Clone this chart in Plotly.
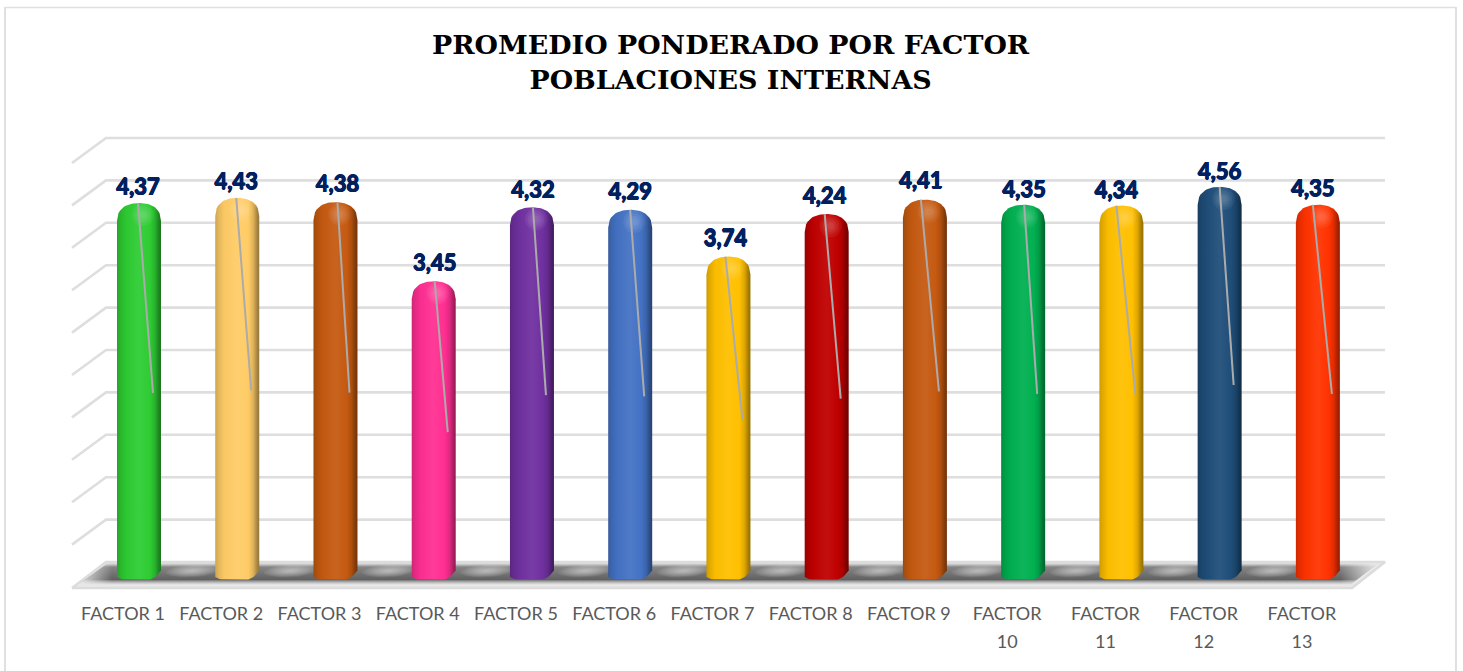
import math
import plotly.graph_objects as go

categories = ["FACTOR 1","FACTOR 2","FACTOR 3","FACTOR 4","FACTOR 5","FACTOR 6","FACTOR 7","FACTOR 8","FACTOR 9","FACTOR","FACTOR","FACTOR","FACTOR"]
second_line = ["10","11","12","13"]
values = [4.37,4.43,4.38,3.45,4.32,4.29,3.74,4.24,4.41,4.35,4.34,4.56,4.35]
value_labels = ["4,37","4,43","4,38","3,45","4,32","4,29","3,74","4,24","4,41","4,35","4,34","4,56","4,35"]
colors = ["#2ECC33","#FFCC66","#C55A11","#FF2F92","#7030A0","#4472C4","#FFC000","#C00000","#C55A11","#00B050","#FFC000","#1F4E79","#FF3300"]
title_text = "<b>PROMEDIO PONDERADO POR FACTOR<br>POBLACIONES INTERNAS</b>"
grid_values = [0,0.5,1,1.5,2,2.5,3,3.5,4,4.5,5]

# pixel geometry of the figure and axis scales
W, H = 1463, 671
PX_CAT = 98.24; X0_PX = 123
PX_VAL = 85.0; Y0_PX = 574.5
PLOT_BOTTOM = 596
xr = [-X0_PX/PX_CAT, (W-X0_PX)/PX_CAT]
yr = [(Y0_PX-PLOT_BOTTOM)/PX_VAL, Y0_PX/PX_VAL]
def X(px): return (px-X0_PX)/PX_CAT
def Yv(px): return (Y0_PX-px)/PX_VAL
dx_px = 16   # bars are displaced from their tick labels by the 3-D rotation
HALF = 22/PX_CAT
label_dx = [-1,-1,2,1,1,0,-3,-2,-4,1,-5,0,-5]
label_dy = [14,14,16,16,15,16,16,16,17,13,13,13,14]

def shade(c, f):
    r,g,b = int(c[1:3],16),int(c[3:5],16),int(c[5:7],16)
    if f <= 1:
        r,g,b = r*f,g*f,b*f
    else:
        r,g,b = r+(255-r)*(f-1),g+(255-g)*(f-1),b+(255-b)*(f-1)
    return f"rgb({int(r)},{int(g)},{int(b)})"

fig = go.Figure()

# back wall grid with the short diagonal returns
for g in grid_values[1:]:
    py = 562 - g*84.8
    fig.add_trace(go.Scatter(
        x=[X(72),X(106),X(1385)], y=[Yv(py+25),Yv(py),Yv(py)],
        mode="lines", line=dict(color="#DEDEDE",width=2.6), hoverinfo="skip", showlegend=False))

# floor
fl_x=[X(72),X(106),X(1385),X(1352),X(72)]
fl_y=[Yv(588),Yv(562),Yv(562),Yv(588),Yv(588)]
fig.add_trace(go.Scatter(x=fl_x,y=fl_y,mode="lines",fill="toself",fillcolor="#E8E8E8",
    line=dict(color="#DCDCDC",width=2.5),hoverinfo="skip",showlegend=False))
# floor shadow: soft vertical band
sh_x=[X(78),X(108),X(1378),X(1350),X(78)]
sh_y=[Yv(585),Yv(563),Yv(563),Yv(585),Yv(585)]
fig.add_trace(go.Scatter(x=sh_x,y=sh_y,mode="lines",fill="toself",line=dict(width=0),
    fillgradient=dict(type="vertical",start=Yv(563),stop=Yv(585),
        colorscale=[[0,"rgba(130,130,130,0)"],[0.18,"rgba(115,115,115,0.85)"],[0.75,"rgba(90,90,90,0.95)"],[1,"rgba(160,160,160,0)"]]),
    hoverinfo="skip",showlegend=False))
# floor shadow: fade at both ends
for a,b,c0,c1 in [(78,112,"rgba(232,232,232,1)","rgba(232,232,232,0)"),(1340,1378,"rgba(232,232,232,0)","rgba(232,232,232,1)")]:
    fig.add_trace(go.Scatter(x=sh_x,y=sh_y,mode="lines",fill="toself",line=dict(width=0),
        fillgradient=dict(type="horizontal",start=X(a),stop=X(b),colorscale=[[0,c0],[1,c1]]),
        hoverinfo="skip",showlegend=False))
# light, slanted, blurred streaks between the bars
for i in range(12):
    gx = 139 + i*PX_CAT + 53
    for j in range(10):
        f = 1 - j/10
        rx, ry = 26*f, 6.5*f
        ex=[];ey=[]
        for k in range(25):
            a=2*math.pi*k/24
            px=rx*math.cos(a)+0.9*ry*math.sin(a)
            py=ry*math.sin(a)
            ex.append(X(gx+px)); ey.append(Yv(571-py))
        fig.add_trace(go.Scatter(x=ex,y=ey,mode="lines",fill="toself",fillcolor="rgba(255,255,255,0.065)",
            line=dict(width=0),hoverinfo="skip",showlegend=False))

# cylinders
for i,(v,c) in enumerate(zip(values,colors)):
    cx = i + dx_px/PX_CAT
    pts=31
    xs=[];ys=[]
    # dome, left to right
    for k in range(pts):
        t=-1+2*k/(pts-1)
        xs.append(cx+HALF*t)
        ys.append(v-(18/PX_VAL)*(1-(1-abs(t)**2.3)**(1/2.3)))
    # bottom, right to left
    for k in range(pts):
        t=1-2*k/(pts-1)
        px=579.5-9*max(0,(t-0.45)/0.55)**2-2.5*max(0,(-t-0.6)/0.4)**2
        xs.append(cx+HALF*t)
        ys.append(Yv(px))
    xs.append(xs[0]);ys.append(ys[0])
    scale=[[0,shade(c,0.80)],[0.06,shade(c,0.88)],[0.2,shade(c,0.98)],[0.5,shade(c,1.06)],
           [0.75,shade(c,1.0)],[0.86,shade(c,0.88)],[0.95,shade(c,0.66)],[1,shade(c,0.58)]]
    fig.add_trace(go.Scatter(x=xs,y=ys,mode="lines",fill="toself",line=dict(width=0),
        fillgradient=dict(type="horizontal",colorscale=scale,start=cx-HALF,stop=cx+HALF),
        hoverinfo="skip",showlegend=False))
    # specular spot on the dome
    for s in (22,17,12,7):
        fig.add_trace(go.Scatter(x=[cx+4/PX_CAT],y=[v-12/PX_VAL],mode="markers",
            marker=dict(size=s,color="rgba(255,255,255,0.06)",line=dict(width=0)),
            hoverinfo="skip",showlegend=False))

# leader lines
for i,v in enumerate(values):
    cx=i+dx_px/PX_CAT
    fig.add_trace(go.Scatter(x=[cx+label_dx[i]/PX_CAT,cx+14/PX_CAT],y=[v,v*0.5-0.05],mode="lines",
        line=dict(color="#ABABAB",width=2),hoverinfo="skip",showlegend=False))

# data labels
fig.add_trace(go.Scatter(
    x=[i+(dx_px+label_dx[i])/PX_CAT for i in range(13)],
    y=[v+label_dy[i]/PX_VAL for i,v in enumerate(values)],
    mode="text",text=value_labels,textposition="middle center",
    textfont=dict(family="Lato",size=22,color="#002060",weight=700,
                  shadow="0.6px 0 0 #002060,-0.6px 0 0 #002060,0 0.6px 0 #002060,0 -0.6px 0 #002060"),
    hoverinfo="skip",showlegend=False))

# invisible trace for the second tick axis
fig.add_trace(go.Scatter(x=[9,12],y=[0,0],xaxis="x2",mode="markers",marker=dict(opacity=0),hoverinfo="skip",showlegend=False))

frame = "#E0E0E0"
fig.update_layout(
    width=W,height=H,margin=dict(l=0,r=0,t=0,b=H-PLOT_BOTTOM),
    paper_bgcolor="white",plot_bgcolor="rgba(0,0,0,0)",
    xaxis=dict(range=xr,tickmode="array",tickvals=list(range(13)),ticktext=categories,
        showgrid=False,zeroline=False,showline=False,ticks="outside",ticklen=1,tickcolor="rgba(0,0,0,0)",
        tickfont=dict(family="Lato",size=18,color="#595959")),
    xaxis2=dict(overlaying="x",side="bottom",anchor="y",range=xr,tickmode="array",tickvals=[9,10,11,12],ticktext=second_line,
        showgrid=False,zeroline=False,showline=False,ticks="outside",ticklen=29,tickcolor="rgba(0,0,0,0)",
        tickfont=dict(family="Lato",size=18,color="#595959")),
    yaxis=dict(range=yr,visible=False),
    showlegend=False,
    annotations=[dict(text=title_text,xref="paper",yref="paper",x=730.5/W,y=1-62/PLOT_BOTTOM,xanchor="center",yanchor="middle",
        showarrow=False,font=dict(family="DejaVu Serif",size=26.9,color="#000000"))],
    shapes=[dict(type="line",xref="paper",yref="paper",x0=5/W,x1=1456/W,y0=1-7.5/PLOT_BOTTOM,y1=1-7.5/PLOT_BOTTOM,line=dict(color=frame,width=1.5)),
            dict(type="line",xref="paper",yref="paper",x0=5/W,x1=5/W,y0=1-7/PLOT_BOTTOM,y1=1-H/PLOT_BOTTOM,line=dict(color=frame,width=2)),
            dict(type="line",xref="paper",yref="paper",x0=1456/W,x1=1456/W,y0=1-7/PLOT_BOTTOM,y1=1-H/PLOT_BOTTOM,line=dict(color=frame,width=2))],
)
fig.write_html("out.html",config=dict(displayModeBar=False),post_script="document.body.style.margin='0';")
